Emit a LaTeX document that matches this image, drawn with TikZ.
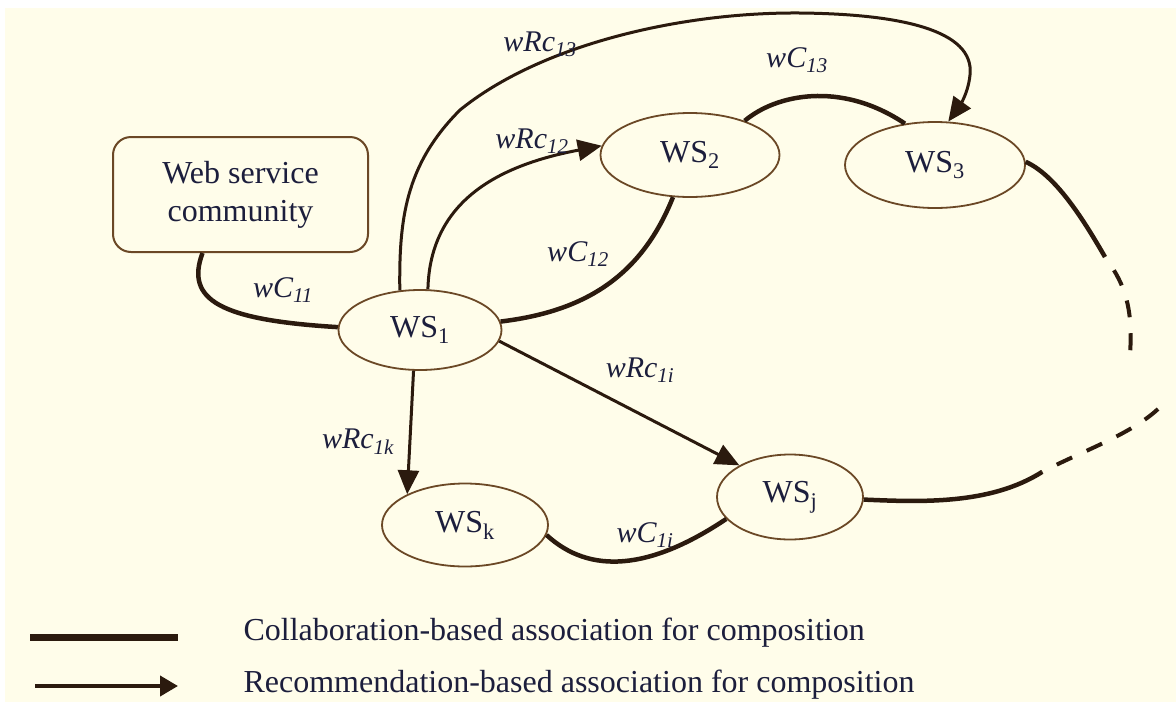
\documentclass[tikz,border=0pt]{standalone}
\usepackage{fontspec}
\setmainfont{Liberation Serif}
\usetikzlibrary{shapes.geometric,arrows.meta}
\definecolor{bg}{HTML}{FFFDEA}
\definecolor{edgec}{HTML}{2B1A0E}
\definecolor{rim}{HTML}{6B4826}
\definecolor{ink}{HTML}{1C1E3C}
\tikzset{
  wsnode/.style={ellipse, draw=rim, line width=1.8pt, fill=bg, inner sep=0pt, text=ink, font=\fontsize{32}{36}\selectfont},
  commbox/.style={rectangle, rounded corners=18pt, draw=rim, line width=2pt, fill=bg, inner sep=0pt, text=ink, align=center, font=\fontsize{32}{38}\selectfont},
  collab/.style={draw=edgec, line width=4.5pt},
  recom/.style={draw=edgec, line width=3pt, -{Triangle[length=24pt,width=21pt]}},
  dashpart/.style={draw=edgec, line width=4pt, dash pattern=on 17pt off 16pt},
  lbl/.style={text=ink, font=\fontsize{30}{34}\selectfont\itshape},
  legtext/.style={text=ink, anchor=west, font=\fontsize{32}{36}\selectfont},
}
\begin{document}
\begin{tikzpicture}[x=1pt,y=-1pt]
\useasboundingbox (0,0) rectangle (1176,702);
\fill[white] (0,0) rectangle (1176,702);
\fill[bg] (5,8) rectangle (1176,702);

% nodes
\node[commbox, minimum width=255pt, minimum height=115pt] (box) at (240.5,194.5) {Web service\\community};
\node[wsnode, minimum width=163pt, minimum height=80pt] (ws1) at (420,330) {WS\textsubscript{1}};
\node[wsnode, minimum width=179pt, minimum height=84pt] (ws2) at (690,155) {WS\textsubscript{2}};
\node[wsnode, minimum width=180pt, minimum height=86pt] (ws3) at (935,165) {WS\textsubscript{3}};
\node[wsnode, minimum width=166pt, minimum height=83pt] (wsk) at (465,525) {WS\textsubscript{k}};
\node[wsnode, minimum width=146pt, minimum height=85pt] (wsj) at (790,497) {WS\textsubscript{j}};

% collaboration edges
\draw[collab] (box.237) .. controls (185,300) and (220,320) .. (ws1.178);
\draw[collab] (ws1.6) .. controls (580,312) and (640,280) .. (ws2.248);
\draw[collab] (ws2.32) .. controls (775,95) and (840,80) .. (ws3.126);
\draw[collab] (wsk.353) .. controls (590,575) and (650,570) .. (wsj.199);
\coordinate (u1) at (1105,257);
\coordinate (u2) at (1130,354);
\coordinate (d1) at (1158,409);
\coordinate (d2) at (1042,472);
\draw[collab] (ws3.2) .. controls (1055,175) and (1082,217) .. (u1);
\draw[dashpart, dash phase=17pt] (u1) .. controls (1120,278) and (1134,300) .. (u2);
\draw[dashpart] (d1) .. controls (1130,435) and (1080,452) .. (d2);
\draw[collab] (wsj.358) .. controls (920,502) and (990,505) .. (d2);

% recommendation edges
\draw[recom] (ws1.117) .. controls (399,220) and (405,165) .. (460,110)
  .. controls (540,45) and (680,12) .. (800,13)
  .. controls (900,14) and (975,30) .. (970,75)
  .. controls (968,95) and (958,108) .. (ws3.73);
\draw[recom] (ws1.79) .. controls (430,200) and (500,165) .. (ws2.174);
\draw[recom] (ws1.352) -- (wsj.148);
\draw[recom] (ws1.261) -- (wsk.152);

% labels
\node[lbl] (l11) at (283,290) {wC\textsubscript{11}};
\node[lbl] (l13r) at (540,44) {wRc\textsubscript{13}};
\node[lbl] (l12r) at (532,141) {wRc\textsubscript{12}};
\node[lbl] (l12) at (578,254) {wC\textsubscript{12}};
\node[lbl] (l13) at (797,60) {wC\textsubscript{13}};
\node[lbl] (l1ir) at (640,370) {wRc\textsubscript{1i}};
\node[lbl] (l1kr) at (358,442) {wRc\textsubscript{1k}};
\node[lbl] (l1i) at (645,535) {wC\textsubscript{1i}};

% legend
\coordinate (la) at (30,637);
\coordinate (lb) at (178,637);
\draw[draw=edgec, line width=7pt] (la) -- (lb);
\coordinate (ra) at (35,686);
\coordinate (rb) at (178,686);
\draw[draw=edgec, line width=4pt, -{Triangle[length=18pt,width=20pt]}] (ra) -- (rb);
\node[legtext] (t1) at (240,633) {Collaboration-based association for composition};
\node[legtext] (t2) at (240,685) {Recommendation-based association for composition};
\end{tikzpicture}
\end{document}
